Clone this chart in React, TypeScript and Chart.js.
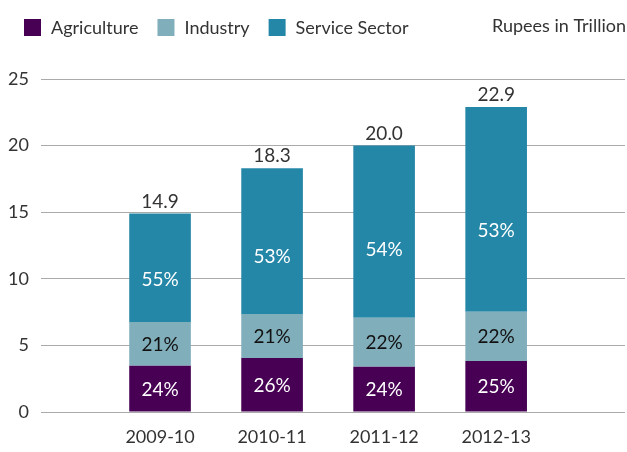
import React, { useEffect, useRef } from 'react';
import { Chart, registerables } from 'chart.js';

Chart.register(...registerables);

const FONT = 'Lato, "Open Sans", sans-serif';

const categories = ['2009-10', '2010-11', '2011-12', '2012-13'];
const seriesNames = ['Agriculture', 'Industry', 'Service Sector'];
const agriculture = [3.48, 4.05, 3.4, 3.83];
const industry = [3.28, 3.31, 3.68, 3.7];
const service = [8.14, 10.94, 12.92, 15.37];
const totalLabels = ['14.9', '18.3', '20.0', '22.9'];
const agriculturePct = ['24%', '26%', '24%', '25%'];
const industryPct = ['21%', '21%', '22%', '22%'];
const servicePct = ['55%', '53%', '54%', '53%'];
const unitLabel = 'Rupees in Trillion';

const colors = ['#470054', '#80AEBB', '#2587A7'];
const pctColors = ['#ffffff', '#111111', '#ffffff'];
const pctPosition = [0.5, 0.5, 0.4];
const pctLabels = [agriculturePct, industryPct, servicePct];
const seriesValues = [agriculture, industry, service];
const TEXT = '#333333';

const overlayPlugin = {
  id: 'overlay',
  afterDatasetsDraw(chart: any) {
    const ctx = chart.ctx as CanvasRenderingContext2D;
    ctx.save();
    // percentage labels
    ctx.font = `19px ${FONT}`;
    ctx.textAlign = 'center';
    ctx.textBaseline = 'middle';
    chart.data.datasets.forEach((_ds: any, di: number) => {
      const meta = chart.getDatasetMeta(di);
      meta.data.forEach((bar: any, j: number) => {
        const { x, y, base } = bar.getProps(['x', 'y', 'base'], true);
        ctx.fillStyle = pctColors[di];
        ctx.fillText(pctLabels[di][j], x, base - pctPosition[di] * (base - y) + 1);
      });
    });
    // totals
    const topMeta = chart.getDatasetMeta(chart.data.datasets.length - 1);
    ctx.fillStyle = TEXT;
    ctx.textBaseline = 'alphabetic';
    topMeta.data.forEach((bar: any, j: number) => {
      const { x, y } = bar.getProps(['x', 'y'], true);
      ctx.fillText(totalLabels[j], x, y - 6);
    });
    // legend
    ctx.font = `18px ${FONT}`;
    ctx.textAlign = 'left';
    let lx = 24;
    seriesNames.forEach((name, i) => {
      ctx.fillStyle = colors[i];
      ctx.fillRect(lx, 19, 17, 17);
      ctx.fillStyle = TEXT;
      ctx.fillText(name, lx + 27, 34);
      lx += 27 + ctx.measureText(name).width + 19;
    });
    // unit label
    ctx.textAlign = 'right';
    ctx.fillText(unitLabel, 626, 32);
    ctx.restore();
  },
};

export default function App() {
  const ref = useRef<HTMLCanvasElement>(null);
  useEffect(() => {
    if (!ref.current) return;
    const chart = new Chart(ref.current, {
      type: 'bar',
      data: {
        datasets: seriesNames.map((name, i) => ({
          label: name,
          data: seriesValues[i].map((v, j) => ({ x: j + 1, y: v })),
          backgroundColor: colors[i],
          borderWidth: 0,
          categoryPercentage: 1,
          barPercentage: 0.55,
        })),
      },
      options: {
        responsive: false,
        animation: false,
        layout: { padding: { top: 79, right: 2, left: 0, bottom: 0 } },
        plugins: { legend: { display: false }, tooltip: { enabled: false } },
        scales: {
          x: {
            type: 'linear',
            stacked: true,
            offset: false,
            min: -0.0625,
            max: 5.15,
            grid: { display: false, drawTicks: false, offset: false },
            border: { display: false },
            afterBuildTicks: (scale: any) => {
              scale.ticks = categories.map((_c, i) => ({ value: i + 1 }));
            },
            afterFit: (scale: any) => {
              scale.height = 40;
            },
            ticks: {
              autoSkip: false,
              maxRotation: 0,
              padding: 14,
              color: TEXT,
              font: { family: FONT, size: 18 },
              callback: (v: any) => categories[Number(v) - 1] ?? '',
            },
          },
          y: {
            stacked: true,
            min: 0,
            max: 25,
            grid: { color: '#aaaaaa', lineWidth: 1, drawTicks: false },
            border: { display: false },
            afterFit: (scale: any) => {
              scale.width = 41;
            },
            ticks: {
              stepSize: 5,
              padding: 12,
              color: TEXT,
              font: { family: FONT, size: 18 },
            },
          },
        },
      },
      plugins: [overlayPlugin],
    });
    return () => chart.destroy();
  }, []);
  return (
    <div style={{ position: 'absolute', left: 0, top: 0, width: 627, height: 452 }}>
      <canvas ref={ref} width={627} height={452} />
    </div>
  );
}
